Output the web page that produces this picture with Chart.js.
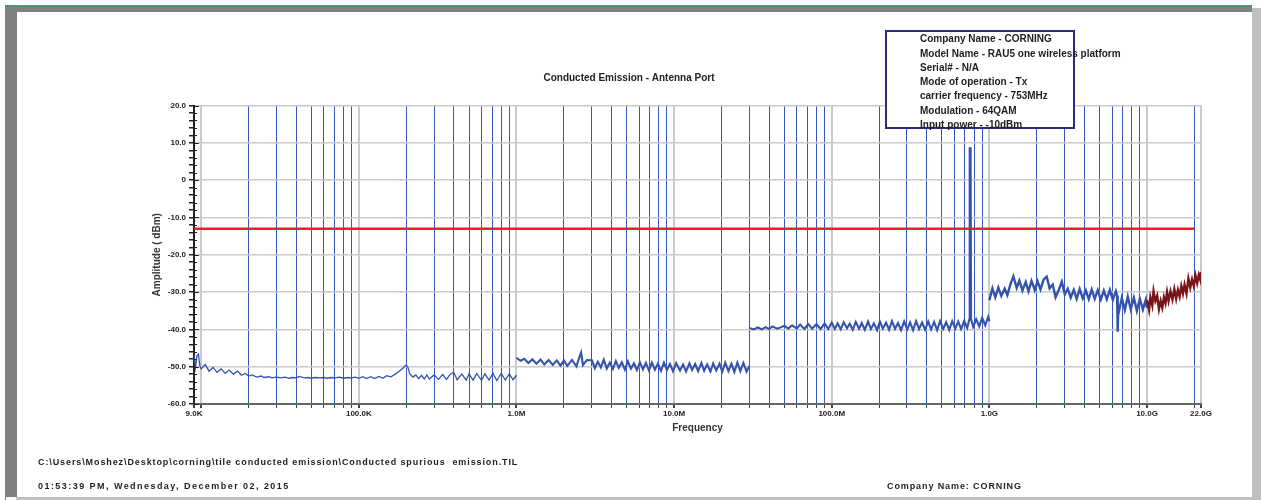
<!DOCTYPE html>
<html>
<head>
<meta charset="utf-8">
<script src="https://cdn.jsdelivr.net/npm/chart.js@4.4.0/dist/chart.umd.min.js"></script>
<style>
  html, body { margin: 0; padding: 0; background: #fff; }
  canvas { display: block; }
</style>
</head>
<body>
<canvas id="emissionChart" width="1261" height="500"></canvas>
<script>
// Conducted emission sweep.
// Each sweep band is its own trace so the band edges don't get joined.

// vertical grid: decades in grey, 2..9 in blue
const gridFreqs = [
  9e3, 1e4, 2e4, 3e4, 4e4, 5e4, 6e4, 7e4, 8e4, 9e4,
  1e5, 2e5, 3e5, 4e5, 5e5, 6e5, 7e5, 8e5, 9e5,
  1e6, 2e6, 3e6, 4e6, 5e6, 6e6, 7e6, 8e6, 9e6,
  1e7, 2e7, 3e7, 4e7, 5e7, 6e7, 7e7, 8e7, 9e7,
  1e8, 2e8, 3e8, 4e8, 5e8, 6e8, 7e8, 8e8, 9e8,
  1e9, 2e9, 3e9, 4e9, 5e9, 6e9, 7e9, 8e9, 9e9,
  1e10, 2e10, 2.2e10
];
const decadeFreqs = [9e3, 1e4, 1e5, 1e6, 1e7, 1e8, 1e9, 1e10, 2.2e10];
const labeledFreqs = [9e3, 1e5, 1e6, 1e7, 1e8, 1e9, 1e10, 2.2e10];
const freqLabels = ['9.0K', '100.0K', '1.0M', '10.0M', '100.0M', '1.0G', '10.0G', '22.0G'];

const ampTicks = [20, 10, 0, -10, -20, -30, -40, -50, -60];
const ampLabels = ['20.0', '10.0', '0', '-10.0', '-20.0', '-30.0', '-40.0', '-50.0', '-60.0'];

// limit line (dBm)
const limitFreqs = [9e3, 2e10];
const limitDbm = [-13, -13];

// band 1: 9 kHz - 1 MHz (kHz)
const band1Khz = [9, 9.2, 9.4, 9.6, 9.8, 10, 10.6, 11.2, 11.9, 12.6, 13.4, 14.2, 15, 16, 17, 18, 19, 20, 21, 22.5,
  24, 25, 27, 28, 30, 32, 34, 36, 38, 40, 42, 45, 48, 50, 53, 56, 60, 63, 67, 71,
  75, 80, 85, 90, 95, 100, 106, 112, 119, 126, 134, 142, 150, 160, 170, 180, 190, 200, 205, 210,
  220, 230, 240, 250, 260, 270, 280, 300, 320, 340, 360, 380, 400, 420, 450, 480, 500, 530, 560, 600,
  630, 670, 710, 750, 800, 850, 900, 950, 1000];
const band1Dbm = [-46.8, -50.2, -47.0, -46.6, -49.8, -50.6, -49.4, -51.2, -50.2, -51.5, -50.6, -51.8, -50.9, -52.0, -51.2, -52.3, -51.8, -52.5, -52.2, -52.8,
  -52.5, -52.9, -52.7, -53.0, -52.8, -53.0, -52.8, -53.1, -52.9, -53.0, -52.6, -53.0, -52.9, -53.1, -52.9, -53.0, -52.9, -53.1, -52.9, -53.0,
  -52.8, -53.1, -52.9, -53.0, -52.8, -53.1, -52.7, -53.2, -52.7, -53.2, -52.6, -53.1, -52.4, -52.7, -52.0, -51.3, -50.4, -49.5, -50.2, -51.8,
  -52.8, -52.2, -53.2, -52.3, -53.3, -52.2, -53.3, -52.2, -53.4, -52.1, -53.4, -52.0, -51.5, -53.5, -52.0, -53.6, -51.9, -53.6, -51.8, -53.7,
  -51.9, -53.6, -51.8, -53.7, -51.8, -53.6, -51.9, -53.5, -52.3];

// band 2: 1 MHz - 30 MHz (MHz)
const band2Mhz = [1, 1.06, 1.12, 1.19, 1.26, 1.34, 1.42, 1.5, 1.6, 1.7, 1.8, 1.9, 2, 2.1, 2.25, 2.4, 2.5, 2.57, 2.64, 2.8,
  3.01, 3.14, 3.28, 3.43, 3.58, 3.74, 3.91, 4.09, 4.27, 4.46, 4.66, 4.87, 5.09, 5.32, 5.56, 5.81, 6.07, 6.34, 6.62, 6.92,
  7.23, 7.55, 7.89, 8.25, 8.62, 9.00, 9.41, 9.83, 10.3, 10.9, 11.4, 11.9, 12.5, 13.0, 13.6, 14.2, 14.9, 15.5, 16.2, 17.0,
  17.7, 18.5, 19.4, 20.2, 21.1, 22.1, 23.1, 24.1, 25.2, 26.3, 27.5, 28.8, 30];
const band2Dbm = [-47.6, -48.4, -47.9, -49.0, -48.0, -49.2, -48.1, -49.4, -48.2, -49.5, -48.3, -49.7, -48.3, -49.8, -48.2, -49.9, -47.6, -46.2, -49.6, -48.2,
  -48.3, -50.4, -48.7, -50.2, -48.1, -50.5, -48.9, -50.6, -48.5, -50.3, -48.8, -50.8, -48.6, -50.5, -49.1, -50.9, -48.8, -50.7, -49.0, -51.0,
  -48.9, -50.8, -49.2, -51.1, -48.9, -50.9, -49.3, -51.2, -49.0, -51.0, -49.4, -51.3, -49.1, -50.9, -49.3, -51.2, -49.0, -51.1, -49.4, -51.3,
  -49.1, -51.0, -49.2, -51.3, -48.9, -51.2, -49.2, -51.4, -48.9, -51.2, -49.0, -51.3, -49.8];

// band 3: 30 MHz - 1 GHz (MHz), carrier at 753 MHz
const band3Mhz = [30, 32, 34, 36, 38, 40, 42, 45, 48, 50, 53, 56, 60, 63, 67, 71, 75, 80, 85, 90, 95,
  100, 104.5, 109, 114, 119, 125, 130, 136, 142, 149, 155, 162, 170, 177, 185, 194, 202, 211, 221, 231,
  241, 252, 263, 275, 288, 301, 314, 328, 343, 358, 374, 391, 409, 427, 446, 466, 487, 509, 532, 556,
  581, 607, 634, 662, 692, 723, 745, 750, 760, 765, 789, 825, 862, 900, 941, 983, 1000];
const band3Dbm = [-39.6, -40.0, -39.5, -40.0, -39.4, -39.9, -39.2, -39.8, -39.4, -39.0, -39.8, -38.9, -39.8, -38.7, -39.9, -38.6, -39.8, -38.6, -39.9, -38.4, -39.9,
  -38.2, -39.9, -38.4, -40.0, -38.1, -39.7, -38.5, -40.1, -38.0, -39.8, -38.3, -40.1, -37.9, -39.9, -38.4, -40.2, -37.9, -39.8, -38.2, -40.1,
  -37.8, -39.9, -38.3, -40.2, -37.9, -40.0, -38.1, -40.2, -37.8, -39.9, -38.2, -40.1, -37.9, -40.0, -38.0, -40.2, -37.8, -39.9, -38.1, -40.1,
  -37.8, -39.8, -37.9, -39.9, -37.7, -39.6, -37.4, 8.5, 8.5, -37.2, -39.3, -37.3, -39.2, -36.9, -38.9, -36.6, -37.8];

// band 4: 1 GHz - 10 GHz (GHz)
const band4Ghz = [1.00, 1.045, 1.09, 1.14, 1.19, 1.25, 1.30, 1.36, 1.42, 1.49, 1.55, 1.62, 1.70, 1.77, 1.85, 1.94, 2.02, 2.11, 2.21, 2.31,
  2.41, 2.52, 2.63, 2.75, 2.88, 3.01, 3.14, 3.28, 3.43, 3.58, 3.74, 3.91, 4.09, 4.27, 4.46, 4.66, 4.87, 5.09, 5.32, 5.56,
  5.81, 6.07, 6.34, 6.46, 6.50, 6.53, 6.57, 6.62, 6.92, 7.23, 7.55, 7.89, 8.25, 8.62, 9.00, 9.41, 9.83, 10.0];
const band4Dbm = [-32.2, -29.0, -31.4, -28.8, -31.0, -29.1, -30.8, -27.9, -25.8, -28.9, -26.9, -29.6, -27.3, -29.8, -27.0, -29.5, -27.1, -29.3, -26.6, -25.9,
  -29.0, -28.0, -31.4, -29.5, -27.2, -30.6, -29.1, -31.5, -29.4, -31.8, -29.2, -31.7, -29.6, -31.9, -29.3, -31.8, -29.5, -32.0, -29.6, -31.9,
  -29.4, -32.1, -29.8, -31.0, -35.6, -40.6, -34.2, -35.4, -31.6, -34.8, -31.2, -34.6, -31.5, -35.0, -31.8, -34.7, -32.0, -34.2];

// band 5: 10 GHz - 22 GHz (GHz)
const band5Ghz = [10.0, 10.3, 10.5, 10.8, 11.0, 11.3, 11.6, 11.9, 12.2, 12.5, 12.8, 13.1, 13.4, 13.7, 14.1, 14.5, 14.9,
  15.3, 15.7, 16.1, 16.5, 16.9, 17.3, 17.8, 18.3, 18.8, 19.3, 19.8, 20.3, 20.8, 21.3, 21.8, 22.0];
const band5Dbm = [-32.2, -34.8, -31.4, -33.6, -29.8, -32.4, -31.0, -34.6, -32.4, -34.2, -31.4, -33.0, -30.0, -32.4, -29.8, -32.0, -29.2,
  -31.8, -29.4, -31.2, -28.4, -30.4, -28.0, -30.4, -26.4, -28.8, -26.6, -28.4, -25.6, -27.6, -25.4, -26.8, -24.6];

const infoLines = [
  'Company Name - CORNING',
  'Model Name - RAU5 one wireless platform',
  'Serial# - N/A',
  'Mode of operation - Tx',
  'carrier frequency - 753MHz',
  'Modulation - 64QAM',
  'Input power - -10dBm'
];

const FONT = '"Liberation Sans", Arial, sans-serif';
const BLUE = '#3553ab';
const GRID_BLUE = '#3558c0';
const DARK_RED = '#7a1419';

function toPoints(freqs, amps, unit) {
  return freqs.map((f, i) => ({ x: f * unit, y: amps[i] }));
}

function trace(points, color, width) {
  return { data: points, borderColor: color, borderWidth: width, pointRadius: 0, tension: 0, fill: false };
}

// page frame, title, info box and footer text
const pageDecor = {
  id: 'pageDecor',
  beforeDraw(chart) {
    const ctx = chart.ctx;
    ctx.save();
    ctx.fillStyle = '#fff';
    ctx.fillRect(0, 0, chart.width, chart.height);
    ctx.fillStyle = '#c0c0c0';
    ctx.fillRect(1252, 8, 9, 492);
    ctx.fillRect(16, 497, 1236, 3);
    ctx.fillStyle = '#808080';
    ctx.fillRect(6, 7, 1246, 5);
    ctx.fillRect(6, 7, 11, 490);
    ctx.fillStyle = '#4c9a6a';
    ctx.fillRect(5, 5, 1247, 2);
    ctx.fillRect(5, 5, 1, 495);
    ctx.restore();
  },
  afterDraw(chart) {
    const ctx = chart.ctx;
    const y = chart.scales.y;
    ctx.save();

    // y ticks cross the axis line a little
    ctx.strokeStyle = '#222';
    ctx.lineWidth = 1;
    y.ticks.forEach(t => {
      const py = Math.round(y.getPixelForValue(t.value)) + 0.5;
      const len = ampTicks.includes(t.value) ? 5 : 3;
      ctx.beginPath();
      ctx.moveTo(chart.chartArea.left, py);
      ctx.lineTo(chart.chartArea.left + len, py);
      ctx.stroke();
    });

    ctx.fillStyle = '#222';
    ctx.textBaseline = 'middle';
    ctx.textAlign = 'center';
    ctx.font = 'bold 10px ' + FONT;
    ctx.fillText('Conducted Emission - Antenna Port', 629, 78);

    // info box
    ctx.fillStyle = '#fff';
    ctx.fillRect(886, 31, 188, 97);
    ctx.strokeStyle = '#2c2c7c';
    ctx.lineWidth = 2;
    ctx.strokeRect(886, 31, 188, 97);
    ctx.fillStyle = '#1e1e1e';
    ctx.textAlign = 'left';
    ctx.font = 'bold 10px ' + FONT;
    infoLines.forEach((line, i) => ctx.fillText(line, 920, 39.5 + i * 14.3));

    // footer
    ctx.font = 'bold 9px ' + FONT;
    ctx.letterSpacing = '0.9px';
    ctx.fillText('C:\\Users\\Moshez\\Desktop\\corning\\tile conducted emission\\Conducted spurious  emission.TIL', 38, 463);
    ctx.fillText('Company Name: CORNING', 887, 487);
    ctx.letterSpacing = '1.45px';
    ctx.fillText('01:53:39 PM, Wednesday, December 02, 2015', 38, 487);
    ctx.restore();
  }
};

new Chart(document.getElementById('emissionChart'), {
  type: 'line',
  data: {
    datasets: [
      { data: toPoints(limitFreqs, limitDbm, 1), borderColor: '#e8202a', borderWidth: 2.5, pointRadius: 0, fill: false },
      trace(toPoints(band5Ghz, band5Dbm, 1e9), DARK_RED, 2.4),
      trace(toPoints(band1Khz, band1Dbm, 1e3), BLUE, 1.3),
      trace(toPoints(band2Mhz, band2Dbm, 1e6), BLUE, 2.1),
      trace(toPoints(band3Mhz, band3Dbm, 1e6), BLUE, 2.1),
      trace(toPoints(band4Ghz, band4Dbm, 1e9), BLUE, 2.4)
    ]
  },
  options: {
    responsive: false,
    animation: false,
    layout: { padding: { left: 0, top: 105.5, right: 60, bottom: 64 } },
    plugins: {
      legend: { display: false },
      tooltip: { enabled: false },
      title: { display: false }
    },
    scales: {
      x: {
        type: 'logarithmic',
        min: 9e3,
        max: 2.2e10,
        afterBuildTicks: scale => { scale.ticks = gridFreqs.map(v => ({ value: v })); },
        afterFit: scale => { scale.height = 32; },
        grid: {
          color: c => decadeFreqs.includes(c.tick.value) ? '#cacaca' : GRID_BLUE,
          lineWidth: c => decadeFreqs.includes(c.tick.value) ? 2 : 1,
          tickColor: '#444',
          tickLength: 4
        },
        border: { color: '#666', width: 2 },
        ticks: {
          autoSkip: false,
          maxRotation: 0,
          padding: 1,
          color: '#222',
          font: { family: FONT, size: 8, weight: 'bold' },
          callback: v => {
            const i = labeledFreqs.indexOf(v);
            return i < 0 ? '' : freqLabels[i];
          }
        },
        title: {
          display: true,
          text: 'Frequency',
          color: '#333',
          font: { family: FONT, size: 10, weight: 'bold' },
          padding: { top: 0, bottom: 2 }
        }
      },
      y: {
        min: -60,
        max: 20,
        afterFit: scale => { scale.width = 194; },
        grid: {
          color: c => ampTicks.includes(c.tick.value) ? '#cacaca' : 'rgba(0,0,0,0)',
          lineWidth: 1.5,
          tickColor: '#222',
          tickLength: 5
        },
        border: { color: '#222', width: 2 },
        ticks: {
          stepSize: 2,
          autoSkip: false,
          padding: 3,
          color: '#222',
          font: { family: FONT, size: 8, weight: 'bold' },
          callback: v => {
            const i = ampTicks.indexOf(v);
            return i < 0 ? '' : ampLabels[i];
          }
        },
        title: {
          display: true,
          text: 'Amplitude ( dBm)',
          color: '#333',
          font: { family: FONT, size: 10, weight: 'bold' },
          padding: { top: 151, bottom: 0 }
        }
      }
    }
  },
  plugins: [pageDecor]
});
</script>
</body>
</html>
